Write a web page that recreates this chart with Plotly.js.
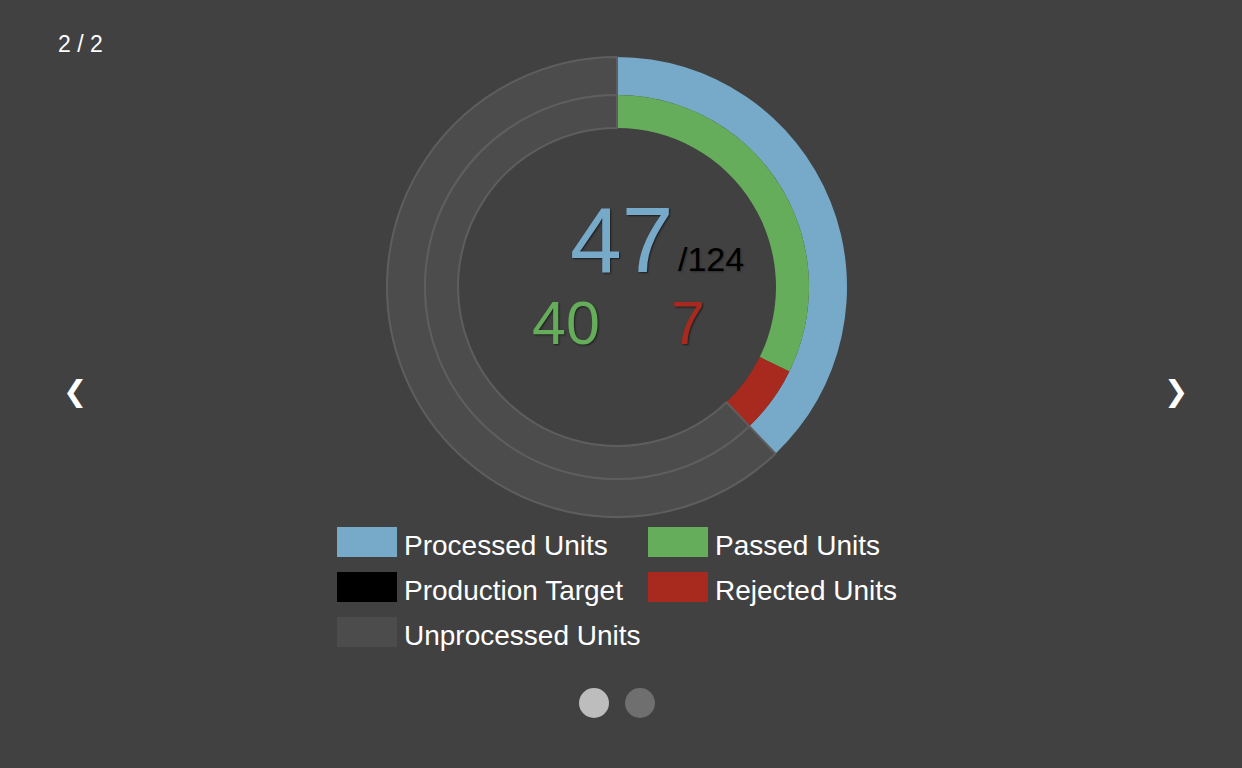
<!DOCTYPE html>
<html>
<head>
<meta charset="utf-8">
<script src="https://cdn.plot.ly/plotly-3.0.1.min.js"></script>
<style>
  html, body { margin: 0; padding: 0; background: #414141; }
  #chart { width: 1242px; height: 768px; }
</style>
</head>
<body>
<div id="chart"></div>
<script>
// ---- data ----
const productionTarget = 124;
const processedUnits = 47;
const passedUnits = 40;
const rejectedUnits = 7;
const unprocessedUnits = productionTarget - processedUnits;

const outerLabels = ["Processed Units", "Unprocessed Units"];
const outerValues = [processedUnits, unprocessedUnits];
const innerLabels = ["Passed Units", "Rejected Units", "Unprocessed Units"];
const innerValues = [passedUnits, rejectedUnits, unprocessedUnits];

const legendLabels = ["Processed Units", "Passed Units", "Production Target", "Rejected Units", "Unprocessed Units"];
const pageLabel = "2 / 2";

// ---- styles ----
const W = 1242, H = 768;
const BG = "#414141";
const C = {
  "Processed Units": "#77aac9",
  "Passed Units": "#65ad5a",
  "Rejected Units": "#a8291d",
  "Production Target": "#000000",
  "Unprocessed Units": "#4c4c4c"
};
const EDGE = "#5e5e5e";
const FONT = "Liberation Sans, Arial, sans-serif";

const px = x => x / W;
const py = y => 1 - y / H;

const cx = 617, cy = 287;
const rOuter = 230, rMid = 192, rInner = 159;

function lineColors(labels) { return labels.map(l => l === "Unprocessed Units" ? EDGE : C[l]); }
function lineWidths(labels) { return labels.map(l => l === "Unprocessed Units" ? 2 : 0); }

const outerTrace = {
  type: "pie",
  values: outerValues,
  labels: outerLabels,
  sort: false,
  direction: "clockwise",
  rotation: 0,
  hole: rMid / rOuter,
  textinfo: "none",
  hoverinfo: "none",
  showlegend: false,
  marker: { colors: outerLabels.map(l => C[l]), line: { color: lineColors(outerLabels), width: lineWidths(outerLabels) } },
  domain: { x: [px(cx - rOuter), px(cx + rOuter)], y: [py(cy + rOuter), py(cy - rOuter)] }
};

const innerTrace = {
  type: "pie",
  values: innerValues,
  labels: innerLabels,
  sort: false,
  direction: "clockwise",
  rotation: 0,
  hole: rInner / rMid,
  textinfo: "none",
  hoverinfo: "none",
  showlegend: false,
  marker: { colors: innerLabels.map(l => C[l]), line: { color: lineColors(innerLabels), width: lineWidths(innerLabels) } },
  domain: { x: [px(cx - rMid), px(cx + rMid)], y: [py(cy + rMid), py(cy - rMid)] }
};

const shadow = "1px 1px 2px rgba(0,0,0,0.55)";
const annotations = [
  { text: String(processedUnits), x: px(621), y: py(240), font: { family: FONT, size: 93, color: C["Processed Units"], shadow: shadow } },
  { text: "/" + productionTarget, x: px(711), y: py(259), font: { family: FONT, size: 34, color: C["Production Target"], shadow: "1px 1px 2px rgba(0,0,0,0.3)" } },
  { text: String(passedUnits), x: px(566), y: py(323), font: { family: FONT, size: 61, color: C["Passed Units"], shadow: shadow } },
  { text: String(rejectedUnits), x: px(688), y: py(323), font: { family: FONT, size: 61, color: C["Rejected Units"], shadow: shadow } },
  { text: pageLabel, x: px(80), y: py(44), font: { family: FONT, size: 23, color: "#ffffff" } },
  { text: "❮", x: px(75), y: py(391), font: { family: "DejaVu Sans", size: 29, color: "#ffffff", weight: "bold" } },
  { text: "❯", x: px(1176), y: py(391), font: { family: "DejaVu Sans", size: 29, color: "#ffffff", weight: "bold" } }
].map(a => Object.assign({ xref: "paper", yref: "paper", xanchor: "center", yanchor: "middle", showarrow: false }, a));

const shapes = [];
// custom legend: two columns
const colX = [337, 648];
const rowY = [527, 572, 617];
legendLabels.forEach((lab, i) => {
  const col = i % 2, row = Math.floor(i / 2);
  const x0 = colX[col], y0 = rowY[row];
  shapes.push({ type: "rect", xref: "paper", yref: "paper", x0: px(x0), x1: px(x0 + 60), y0: py(y0 + 30), y1: py(y0),
    fillcolor: C[lab], line: { width: 0 } });
  annotations.push({ text: lab, xref: "paper", yref: "paper", x: px(x0 + 65), y: py(y0 + 18), xanchor: "left", yanchor: "middle",
    showarrow: false, font: { family: FONT, size: 28, color: "#ffffff" } });
});
// pager dots
[[594, "#bdbdbd"], [640, "#6f6f6f"]].forEach(([x, c]) => {
  shapes.push({ type: "circle", xref: "paper", yref: "paper", x0: px(x - 15), x1: px(x + 15), y0: py(703 + 15), y1: py(703 - 15),
    fillcolor: c, line: { width: 0 } });
});

const layout = {
  width: W, height: H,
  margin: { l: 0, r: 0, t: 0, b: 0 },
  paper_bgcolor: BG, plot_bgcolor: BG,
  showlegend: false,
  annotations: annotations,
  shapes: shapes
};

Plotly.newPlot("chart", [outerTrace, innerTrace], layout, { displayModeBar: false, staticPlot: true });
</script>
</body>
</html>
